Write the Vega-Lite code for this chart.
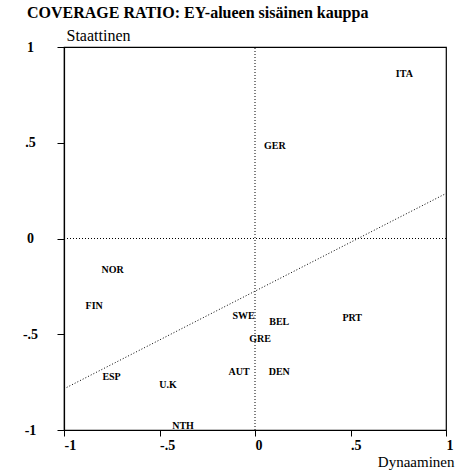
{
  "$schema": "https://vega.github.io/schema/vega-lite/v6.json",
  "width": 382,
  "height": 383,
  "autosize": {"type": "none"},
  "padding": {"left": 64, "top": 47, "right": 14, "bottom": 45},
  "background": "white",
  "title": {
    "text": "COVERAGE RATIO: EY-alueen sisäinen kauppa",
    "anchor": "start",
    "frame": "group",
    "font": "Liberation Serif",
    "fontSize": 16,
    "fontWeight": "bold",
    "color": "black",
    "dx": -37,
    "dy": -2,
    "offset": 4
  },
  "config": {
    "view": {"stroke": "black", "strokeWidth": 1.2}
  },
  "encoding": {
    "x": {
      "field": "x",
      "type": "quantitative",
      "scale": {"domain": [-1, 1], "nice": false, "zero": false},
      "axis": {
        "values": [-1, -0.5, 0, 0.5, 1],
        "labelExpr": "(datum.value < 0 ? '-' : '') + replace(toString(abs(datum.value)), '0.', '.')",
        "grid": false,
        "domainColor": "black",
        "domainWidth": 1.2,
        "tickColor": "black",
        "tickSize": 6,
        "labelAlign": "left",
        "labelBaseline": "alphabetic",
        "labelPadding": 13,
        "labelFont": "Liberation Serif",
        "labelFontSize": 14,
        "labelFontWeight": "bold",
        "labelColor": "black",
        "labelFlush": false,
        "labelOverlap": false,
        "title": "Dynaaminen",
        "titleFont": "Liberation Serif",
        "titleFontSize": 15,
        "titleFontWeight": "normal",
        "titleColor": "black",
        "titleAlign": "right",
        "titleBaseline": "alphabetic",
        "titleX": 390,
        "titleY": 36
      }
    },
    "y": {
      "field": "y",
      "type": "quantitative",
      "scale": {"domain": [-1, 1], "nice": false, "zero": false},
      "axis": {
        "values": [-1, -0.5, 0, 0.5, 1],
        "labelExpr": "(datum.value < 0 ? '-' : '') + replace(toString(abs(datum.value)), '0.', '.')",
        "grid": false,
        "domainColor": "black",
        "domainWidth": 1.2,
        "tickColor": "black",
        "tickSize": 7,
        "labelAlign": "center",
        "labelBaseline": "middle",
        "labelPadding": 27,
        "labelFont": "Liberation Serif",
        "labelFontSize": 14,
        "labelFontWeight": "bold",
        "labelColor": "black",
        "labelFlush": false,
        "labelOverlap": false,
        "title": "Staattinen",
        "titleFont": "Liberation Serif",
        "titleFontSize": 16,
        "titleFontWeight": "normal",
        "titleColor": "black",
        "titleAngle": 0,
        "titleAlign": "left",
        "titleBaseline": "alphabetic",
        "titleX": 2,
        "titleY": -7
      }
    }
  },
  "layer": [
    {
      "data": {"values": [
        {"x": 0, "y": -1, "x2": 0, "y2": 1},
        {"x": -1, "y": 0, "x2": 1, "y2": 0},
        {"x": -1, "y": -0.785, "x2": 1, "y2": 0.235}
      ]},
      "mark": {"type": "rule", "color": "black", "strokeWidth": 1, "strokeDash": [1, 2]},
      "encoding": {
        "x2": {"field": "x2"},
        "y2": {"field": "y2"}
      }
    },
    {
      "data": {"values": [
        {"country": "ITA", "x": 0.782, "y": 0.857},
        {"country": "GER", "x": 0.104, "y": 0.485},
        {"country": "NOR", "x": -0.745, "y": -0.163},
        {"country": "FIN", "x": -0.842, "y": -0.352},
        {"country": "SWE", "x": -0.06, "y": -0.403},
        {"country": "BEL", "x": 0.127, "y": -0.434},
        {"country": "PRT", "x": 0.509, "y": -0.415},
        {"country": "GRE", "x": 0.026, "y": -0.525},
        {"country": "AUT", "x": -0.083, "y": -0.698},
        {"country": "DEN", "x": 0.127, "y": -0.697},
        {"country": "ESP", "x": -0.751, "y": -0.724},
        {"country": "U.K", "x": -0.455, "y": -0.766},
        {"country": "NTH", "x": -0.377, "y": -0.98}
      ]},
      "mark": {"type": "text", "font": "Liberation Serif", "fontSize": 10, "fontWeight": "bold", "color": "black", "align": "center", "baseline": "middle"},
      "encoding": {
        "text": {"field": "country"}
      }
    }
  ]
}
